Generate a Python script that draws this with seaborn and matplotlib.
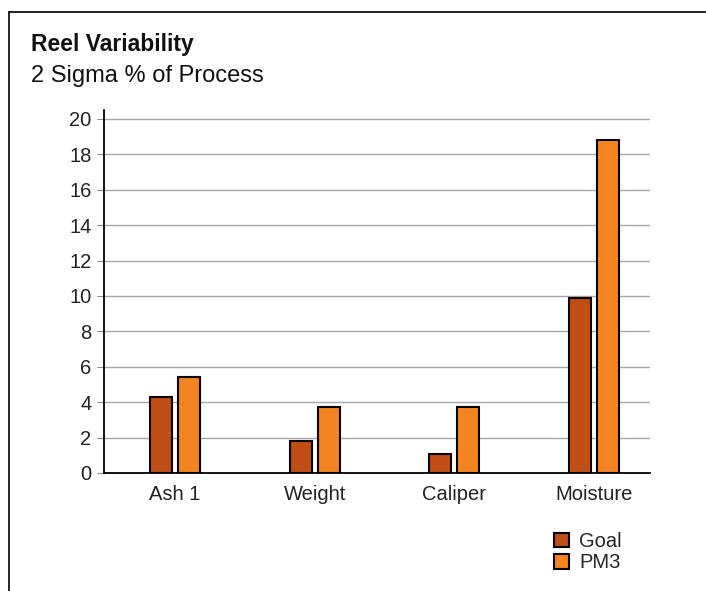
import numpy as np
import pandas as pd
import matplotlib.pyplot as plt
import seaborn as sns
from matplotlib.patches import Patch
from matplotlib.lines import Line2D

# Data
categories = ["Ash 1", "Weight", "Caliper", "Moisture"]
goal = [4.3, 1.8, 1.1, 9.9]
pm3 = [5.4, 3.7, 3.7, 18.8]
series = ["Goal", "PM3"]
colors = ["#C04E15", "#F48322"]


def main():
    df = pd.DataFrame({
        "category": categories * 2,
        "value": goal + pm3,
        "series": [series[0]] * len(categories) + [series[1]] * len(categories),
    })

    sns.set_style("white")
    plt.rcParams["font.family"] = ["Liberation Sans", "DejaVu Sans"]

    fig = plt.figure(figsize=(7.06, 5.91), dpi=100)
    ax = fig.add_axes([104 / 706, 1 - 473 / 591, 546 / 706, 363 / 591])

    sns.barplot(data=df, x="category", y="value", hue="series",
                palette=colors, saturation=1, width=0.40, gap=0.21, ax=ax,
                edgecolor="black", linewidth=1.5, legend=False, zorder=3)

    # Decorations
    ax.set_ylim(0, 20.5)
    ax.set_yticks(np.arange(0, 21, 2))
    ax.set_xlim(-0.508, 3.40)
    ax.set_xlabel("")
    ax.set_ylabel("")
    for yv in range(2, 21, 2):
        ax.axhline(yv, color="#a8a8a8", linewidth=1, zorder=1)
    for side in ["top", "right"]:
        ax.spines[side].set_visible(False)
    ax.spines["left"].set_color("black")
    ax.spines["bottom"].set_color("black")
    ax.spines["left"].set_linewidth(1.3)
    ax.spines["bottom"].set_linewidth(1.3)
    ax.tick_params(axis="y", length=5, width=0.8, color="#888888",
                   labelsize=14.5, labelcolor="#222222", pad=4, left=True)
    ax.tick_params(axis="x", length=0, labelsize=14.5, labelcolor="#222222", pad=9)

    fig.text(31 / 706, 1 - 45 / 591, "Reel Variability", fontsize=16.5,
             fontweight="bold", color="#111111", va="center")
    fig.text(31 / 706, 1 - 76 / 591, "2 Sigma % of Process", fontsize=17,
             color="#111111", va="center")

    # Frame lines
    fig.add_artist(Line2D([9 / 706, 1.0], [1 - 12 / 591, 1 - 12 / 591],
                          color="black", linewidth=1.2))
    fig.add_artist(Line2D([9 / 706, 9 / 706], [0, 1 - 12 / 591],
                          color="black", linewidth=1.2))

    handles = [Patch(facecolor=c, edgecolor="black", linewidth=1.5) for c in colors]
    fig.legend(handles, series, loc="upper left",
               bbox_to_anchor=(544 / 706, 1 - 522 / 591), frameon=False,
               fontsize=14.5, handlelength=0.75, handleheight=0.75,
               handletextpad=0.5, labelspacing=0.12, borderpad=0)

    fig.savefig("out.png", dpi=100)


if __name__ == "__main__":
    main()
